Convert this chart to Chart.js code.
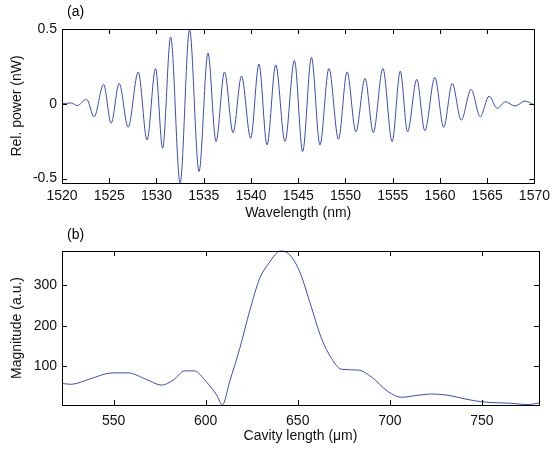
<!DOCTYPE html>
<html>
<head>
<meta charset="utf-8">
<script src="https://cdn.jsdelivr.net/npm/chart.js@4/dist/chart.umd.min.js"></script>
<style>
  html, body { margin: 0; padding: 0; background: #fff; }
  .box { position: absolute; left: 0; width: 555px; }
</style>
</head>
<body>
<div class="box" style="top:0;height:225px"><canvas id="chartA" width="555" height="225"></canvas></div>
<div class="box" style="top:225px;height:224px"><canvas id="chartB" width="555" height="224"></canvas></div>
<script>
/* (a) relative power vs wavelength (peaks and troughs) */
const wavelength = [1520, 1521.0, 1521.6, 1522.6, 1523.4, 1524.4, 1525.2, 1526.05, 1527.0, 1528.07,
  1529.0, 1529.9, 1530.65, 1531.5, 1532.5, 1533.5, 1534.5, 1535.45, 1536.3, 1537.2,
  1538.1, 1539.0, 1539.97, 1540.84, 1541.7, 1542.62, 1543.6, 1544.6, 1545.47, 1546.4,
  1547.3, 1548.25, 1549.26, 1550.17, 1551.1, 1552.07, 1552.95, 1553.96, 1554.94, 1555.8,
  1556.57, 1557.55, 1558.4, 1559.46, 1560.4, 1561.3, 1562.25, 1563.3, 1564.26, 1565.2,
  1566.07, 1566.9, 1567.96, 1569.0, 1570];
const relPower = [0.0, 0.005, -0.012, 0.03, -0.087, 0.13, -0.13, 0.136, -0.157, 0.213,
  -0.242, 0.236, -0.297, 0.447, -0.53, 0.496, -0.453, 0.34, -0.253, 0.213,
  -0.193, 0.185, -0.231, 0.265, -0.275, 0.26, -0.253, 0.29, -0.32, 0.31,
  -0.275, 0.236, -0.237, 0.213, -0.187, 0.169, -0.193, 0.236, -0.253, 0.218,
  -0.187, 0.163, -0.18, 0.176, -0.157, 0.136, -0.109, 0.096, -0.087, 0.051,
  -0.031, 0.013, -0.015, 0.018, -0.009];
const wlTicks = [1520, 1525, 1530, 1535, 1540, 1545, 1550, 1555, 1560, 1565, 1570];
const powTicks = [-0.5, 0, 0.5];

/* (b) magnitude vs cavity length */
const cavityLen = [522, 527, 537, 549.6, 557.8, 567.8, 576, 582.3, 588.6, 593.7,
  600.4, 605.9, 609.1, 613, 618.5, 624, 629.3, 634.8, 639.3, 641.2,
  645.7, 651.1, 656.5, 662.9, 668.3, 673.7, 682.8, 690, 699, 706.3,
  713.6, 722.6, 731.6, 740.8, 749.8, 766, 775.1, 781];
const magnitude = [58, 56, 69, 84, 84, 68, 54, 66, 89, 89,
  62, 30, 5, 62, 144, 238, 316, 357, 382, 384,
  374, 333, 259, 169, 120, 93, 91, 74, 38, 24,
  28, 32, 29, 20, 13, 9, 6, 10];
const lenTicks = [550, 600, 650, 700, 750];
const magTicks = [100, 200, 300];

const FONT = "'Liberation Sans', Arial, sans-serif";
const LINE = '#3a4cb8';

// box around the plot with inward ticks on all four sides (matlab style)
const boxPlugin = {
  id: 'boxTicks',
  afterDraw(chart, args, opts) {
    const ctx = chart.ctx;
    const a = chart.chartArea;
    const sx = chart.scales.x, sy = chart.scales.y;
    ctx.save();
    ctx.strokeStyle = '#000';
    ctx.lineWidth = 1;
    ctx.strokeRect(Math.round(a.left) + 0.5, Math.round(a.top) + 0.5,
      Math.round(a.right - a.left), Math.round(a.bottom - a.top));
    ctx.beginPath();
    sx.ticks.forEach(t => {
      const px = Math.round(sx.getPixelForValue(t.value)) + 0.5;
      ctx.moveTo(px, a.bottom); ctx.lineTo(px, a.bottom - 5);
      ctx.moveTo(px, a.top); ctx.lineTo(px, a.top + 5);
    });
    sy.ticks.forEach(t => {
      const py = Math.round(sy.getPixelForValue(t.value)) + 0.5;
      ctx.moveTo(a.left, py); ctx.lineTo(a.left + 5, py);
      ctx.moveTo(a.right, py); ctx.lineTo(a.right - 5, py);
    });
    ctx.stroke();
    ctx.fillStyle = '#000';
    ctx.font = '14px ' + FONT;
    ctx.textBaseline = 'middle';
    ctx.fillText(opts.label, a.left + 5, opts.labelY);
    ctx.restore();
  }
};

function getConfig(xs, ys, o) {
  return {
    type: 'line',
    data: {
      datasets: [{
        data: xs.map((x, i) => ({x: x, y: ys[i]})),
        borderColor: LINE,
        borderWidth: 1,
        pointRadius: 0,
        cubicInterpolationMode: 'monotone',
        clip: 2,
      }]
    },
    options: {
      responsive: false,
      animation: false,
      layout: {padding: {top: o.top, right: o.right, left: 0, bottom: 0}},
      plugins: {
        legend: {display: false},
        tooltip: {enabled: false},
        boxTicks: {label: o.label, labelY: o.labelY},
      },
      scales: {
        x: {
          type: 'linear',
          min: o.xmin, max: o.xmax,
          afterBuildTicks: s => { s.ticks = o.xticks.map(v => ({value: v})); },
          afterFit: s => { s.height = o.xh; },
          grid: {display: false, drawTicks: false},
          border: {display: false},
          ticks: {color: '#111', font: {family: FONT, size: 14}, padding: o.xpad,
                  maxRotation: 0, autoSkip: false, callback: v => String(v)},
          title: {display: true, text: o.xtitle, color: '#111',
                  font: {family: FONT, size: 14}, padding: {top: 0, bottom: o.xtpad}},
        },
        y: {
          min: o.ymin, max: o.ymax,
          afterBuildTicks: s => { s.ticks = o.yticks.map(v => ({value: v})); },
          afterFit: s => { s.width = 62; },
          grid: {display: false, drawTicks: false},
          border: {display: false},
          ticks: {color: '#111', font: {family: FONT, size: 14}, padding: 5,
                  autoSkip: false, callback: v => String(v)},
          title: {display: true, text: o.ytitle, color: '#111',
                  font: {family: FONT, size: 14}, padding: {top: 9, bottom: 0}},
        }
      }
    },
    plugins: [boxPlugin]
  };
}

function getChart(config, id) {
  const ctx = document.getElementById(id).getContext('2d');
  return new Chart(ctx, config);
}

chartA = getChart(getConfig(wavelength, relPower, {
  top: 29, right: 14, xh: 42, xpad: 5, xtpad: 3,
  xmin: 1520, xmax: 1570, ymin: -0.53, ymax: 0.5,
  xticks: wlTicks, yticks: powTicks,
  xtitle: 'Wavelength (nm)', ytitle: 'Rel. power (nW)',
  label: '(a)', labelY: 12
}), 'chartA');

chartB = getChart(getConfig(cavityLen, magnitude, {
  top: 26, right: 16, xh: 44, xpad: 8, xtpad: 4,
  xmin: 522, xmax: 781, ymin: 5, ymax: 384,
  xticks: lenTicks, yticks: magTicks,
  xtitle: 'Cavity length (\u03bcm)', ytitle: 'Magnitude (a.u.)',
  label: '(b)', labelY: 10
}), 'chartB');
</script>
</body>
</html>
